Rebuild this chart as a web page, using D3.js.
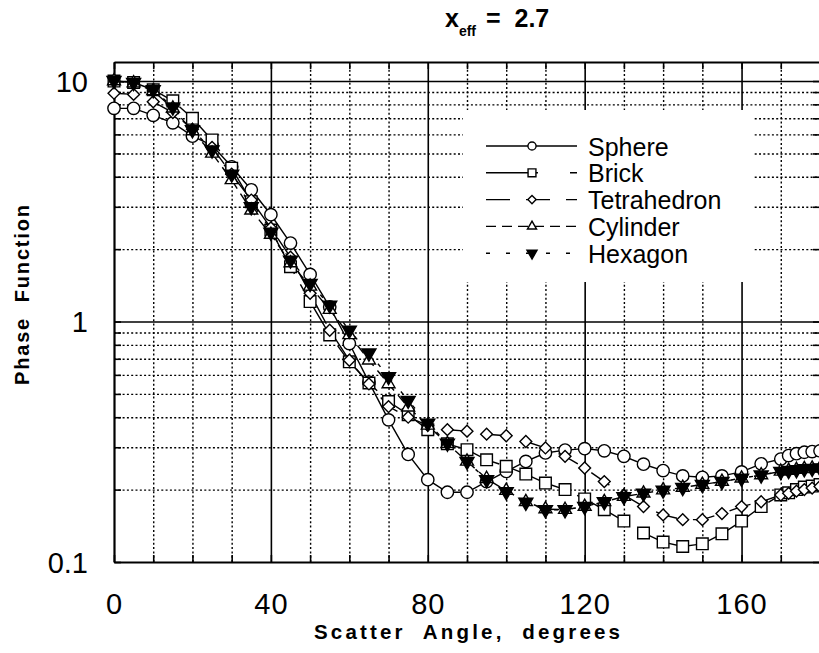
<!DOCTYPE html>
<html><head><meta charset="utf-8">
<script src="https://cdn.jsdelivr.net/npm/d3@7"></script>
<style>body{margin:0;background:#fff}svg{display:block}</style>
</head><body>
<svg id="c" width="819" height="653"></svg>
<script>
// ---------------- data ----------------
const angles = [0,5,10,15,20,25,30,35,40,45,50,55,60,65,70,75,80,85,90,95,100,105,110,115,120,125,130,135,140,145,150,155,160,165,170,172,174,176,178,180];
const sphere = [7.7,7.7,7.2,6.7,5.9,5.4,4.4,3.53,2.78,2.12,1.57,1.15,0.81,0.56,0.39,0.28,0.22,0.195,0.195,0.216,0.238,0.262,0.284,0.292,0.296,0.29,0.275,0.255,0.24,0.228,0.225,0.228,0.237,0.256,0.268,0.277,0.282,0.286,0.288,0.29];
const brick = [10.0,9.86,9.2,8.27,7.0,5.69,4.34,3.15,2.4,1.69,1.21,0.88,0.68,0.555,0.465,0.41,0.355,0.31,0.293,0.266,0.25,0.232,0.213,0.2,0.183,0.165,0.148,0.132,0.121,0.116,0.119,0.131,0.148,0.17,0.19,0.194,0.2,0.205,0.207,0.21];
const tetrahedron = [8.9,8.8,8.2,7.4,6.3,5.3,4.1,3.2,2.45,1.85,1.31,0.92,0.69,0.55,0.443,0.40,0.37,0.355,0.35,0.34,0.335,0.317,0.298,0.275,0.246,0.216,0.19,0.17,0.157,0.15,0.15,0.159,0.17,0.178,0.19,0.193,0.197,0.2,0.203,0.206];
const cylinder = [10.0,9.8,9.1,7.7,6.2,5.0,3.88,2.9,2.3,1.75,1.4,1.12,0.88,0.69,0.55,0.44,0.37,0.31,0.262,0.222,0.198,0.178,0.166,0.165,0.17,0.178,0.187,0.193,0.199,0.204,0.21,0.216,0.223,0.23,0.238,0.24,0.242,0.244,0.245,0.246];
const hexagon = [10.05,9.86,9.19,7.8,6.27,5.17,4.1,3.0,2.35,1.8,1.44,1.17,0.92,0.74,0.59,0.47,0.378,0.312,0.262,0.22,0.196,0.177,0.165,0.165,0.17,0.178,0.187,0.193,0.199,0.204,0.21,0.216,0.223,0.23,0.238,0.24,0.242,0.244,0.245,0.246];
const seriesNames = ["Sphere","Brick","Tetrahedron","Cylinder","Hexagon"];
const xTickValues = [0,40,80,120,160];
const yTickValues = [0.1,1,10];
const yTickLabels = ["0.1","1","10"];
const titleMain = "x", titleSub = "eff", titleRest = "=  2.7";
const xLabel = "Scatter  Angle,  degrees";
const yLabel = "Phase  Function";

// ---------------- layout ----------------
const L = 114, R = 820, T = 62, B = 562;
const svg = d3.select("#c");
const x = d3.scaleLinear().domain([0,180]).range([L,R]);
const y = d3.scaleLog().domain([0.1,12]).range([B,T]);
const FONT = "'Liberation Sans', Arial, Helvetica, sans-serif";

const styles = {
  Sphere:      {sym: d3.symbolCircle,   rot: 0,   fill: "#fff", dash: null,    legDash: null,    size: 120, lsize: 52},
  Brick:       {sym: d3.symbolSquare,   rot: 0,   fill: "#fff", dash: "60,12", legDash: "52,32", size: 135, lsize: 62},
  Tetrahedron: {sym: d3.symbolSquare,   rot: 45,  fill: "#fff", dash: "22,16", legDash: "24,16", size: 70,  lsize: 34},
  Cylinder:    {sym: d3.symbolTriangle, rot: 0,   fill: "#fff", dash: "10,6",  legDash: "10,6",  size: 72,  lsize: 36},
  Hexagon:     {sym: d3.symbolTriangle, rot: 180, fill: "#000", dash: "4,14",  legDash: "4,16",  size: 85,  lsize: 44}
};
const valuesByName = {Sphere: sphere, Brick: brick, Tetrahedron: tetrahedron, Cylinder: cylinder, Hexagon: hexagon};

// ---------------- grid ----------------
const gridX = d3.range(10,180,10);
const majorX = [40,80,120,160];
const gridY = [0.2,0.3,0.4,0.5,0.6,0.7,0.8,0.9,1,2,3,4,5,6,7,8,9,10];
const majorY = [1,10];

svg.append("g").attr("transform",`translate(0,${B})`)
  .call(d3.axisBottom(x).tickValues(gridX).tickSize(-(B-T)).tickSizeOuter(0).tickFormat(""))
  .call(s => {
    s.select(".domain").remove();
    s.selectAll(".tick line").attr("stroke","#000")
      .attr("stroke-width", d => majorX.includes(d) ? 1.6 : 1.4)
      .attr("stroke-dasharray", d => majorX.includes(d) ? null : "2,2.3");
  });
svg.append("g").attr("transform",`translate(${L},0)`)
  .call(d3.axisLeft(y).tickValues(gridY).tickSize(-(R-L)).tickSizeOuter(0).tickFormat(""))
  .call(s => {
    s.select(".domain").remove();
    s.selectAll(".tick line").attr("stroke","#000")
      .attr("stroke-width", d => majorY.includes(d) ? 1.6 : 1.4)
      .attr("stroke-dasharray", d => majorY.includes(d) ? null : "2,2.3");
  });

// legend background blanks the grid
svg.append("rect").attr("x",463).attr("y",110).attr("width",290).attr("height",172).attr("fill","#fff");

// ---------------- frame & inward ticks ----------------
const tickX = d3.range(0,181,10);
const tickY = [0.1].concat(gridY);
function frame(s){ s.select(".domain").attr("stroke","#000").attr("stroke-width",2.2);
  s.selectAll(".tick line").attr("stroke","#000").attr("stroke-width",1.6); s.selectAll(".tick text").remove(); }
svg.append("g").attr("transform",`translate(0,${B})`).call(d3.axisBottom(x).tickValues(tickX).tickSize(-7).tickSizeOuter(0)).call(frame);
svg.append("g").attr("transform",`translate(0,${T})`).call(d3.axisTop(x).tickValues(tickX).tickSize(-7).tickSizeOuter(0)).call(frame);
svg.append("g").attr("transform",`translate(${L},0)`).call(d3.axisLeft(y).tickValues(tickY).tickSize(-7).tickSizeOuter(0)).call(frame);
svg.append("g").attr("transform",`translate(${R},0)`).call(d3.axisRight(y).tickValues(tickY).tickSize(-7).tickSizeOuter(0)).call(frame);

// ---------------- tick labels ----------------
svg.append("g").attr("transform",`translate(0,${B})`)
  .call(d3.axisBottom(x).tickValues(xTickValues).tickSize(0).tickFormat(d3.format("d")))
  .call(s => { s.select(".domain").remove();
    s.selectAll(".tick text").attr("y", 52).attr("dy", null)
      .attr("font-family", FONT).attr("font-size", 29).attr("letter-spacing", 1).attr("fill","#000"); });
svg.append("g").attr("transform",`translate(${L},0)`)
  .call(d3.axisLeft(y).tickValues(yTickValues).tickSize(0).tickFormat((d,i) => yTickLabels[i]))
  .call(s => { s.select(".domain").remove();
    s.selectAll(".tick text").attr("x", -26).attr("dy", "0.36em")
      .attr("font-family", FONT).attr("font-size", 29).attr("fill","#000"); });

// ---------------- titles ----------------
const tt = svg.append("text").attr("y",27).attr("font-family",FONT).attr("font-weight","bold").attr("fill","#000");
tt.append("tspan").attr("x",445).attr("font-size",25).text(titleMain);
tt.append("tspan").attr("font-size",14).attr("dy",9).text(titleSub);
tt.append("tspan").attr("x",486).attr("dy",-9).attr("font-size",25).attr("xml:space","preserve").text(titleRest);

svg.append("text").attr("x",(L+R)/2).attr("y",639).attr("text-anchor","middle")
  .attr("font-family",FONT).attr("font-weight","bold").attr("font-size",20.5)
  .attr("textLength",306).attr("lengthAdjust","spacing").attr("xml:space","preserve").text(xLabel);
svg.append("text").attr("transform","translate(29,295) rotate(-90)").attr("text-anchor","middle")
  .attr("font-family",FONT).attr("font-weight","bold").attr("font-size",20)
  .attr("textLength",180).attr("lengthAdjust","spacing").attr("xml:space","preserve").text(yLabel);

// ---------------- data ----------------
const plot = svg.append("g");
const line = d3.line().x(d => x(d[0])).y(d => y(d[1]));
seriesNames.forEach(name => {
  const st = styles[name];
  const pts = angles.map((a,i) => [a, valuesByName[name][i]]);
  plot.append("path").attr("d", line(pts)).attr("fill","none").attr("stroke","#000")
    .attr("stroke-width",1.4).attr("stroke-dasharray", st.dash);
});
seriesNames.forEach(name => {
  const st = styles[name];
  const pts = angles.map((a,i) => [a, valuesByName[name][i]]);
  plot.append("g").selectAll("path").data(pts).join("path")
    .attr("transform", d => `translate(${x(d[0])},${y(d[1])}) rotate(${st.rot})`)
    .attr("d", d3.symbol().type(st.sym).size(st.size)())
    .attr("fill", st.fill).attr("stroke","#000").attr("stroke-width",1.4);
});

// ---------------- legend ----------------
const leg = svg.append("g");
seriesNames.forEach((name,i) => {
  const st = styles[name];
  const cy = 146 + i*26.8;
  leg.append("line").attr("x1",486).attr("x2",577).attr("y1",cy).attr("y2",cy)
    .attr("stroke","#000").attr("stroke-width",1.4).attr("stroke-dasharray", st.legDash);
  leg.append("path").attr("transform",`translate(532,${cy}) rotate(${st.rot})`)
    .attr("d", d3.symbol().type(st.sym).size(st.lsize)())
    .attr("fill", st.fill).attr("stroke","#000").attr("stroke-width",1.4);
  leg.append("text").attr("x",588).attr("y",cy+9.5).attr("font-family",FONT).attr("font-size",25)
    .attr("fill","#000").text(name);
});
</script>
</body></html>
